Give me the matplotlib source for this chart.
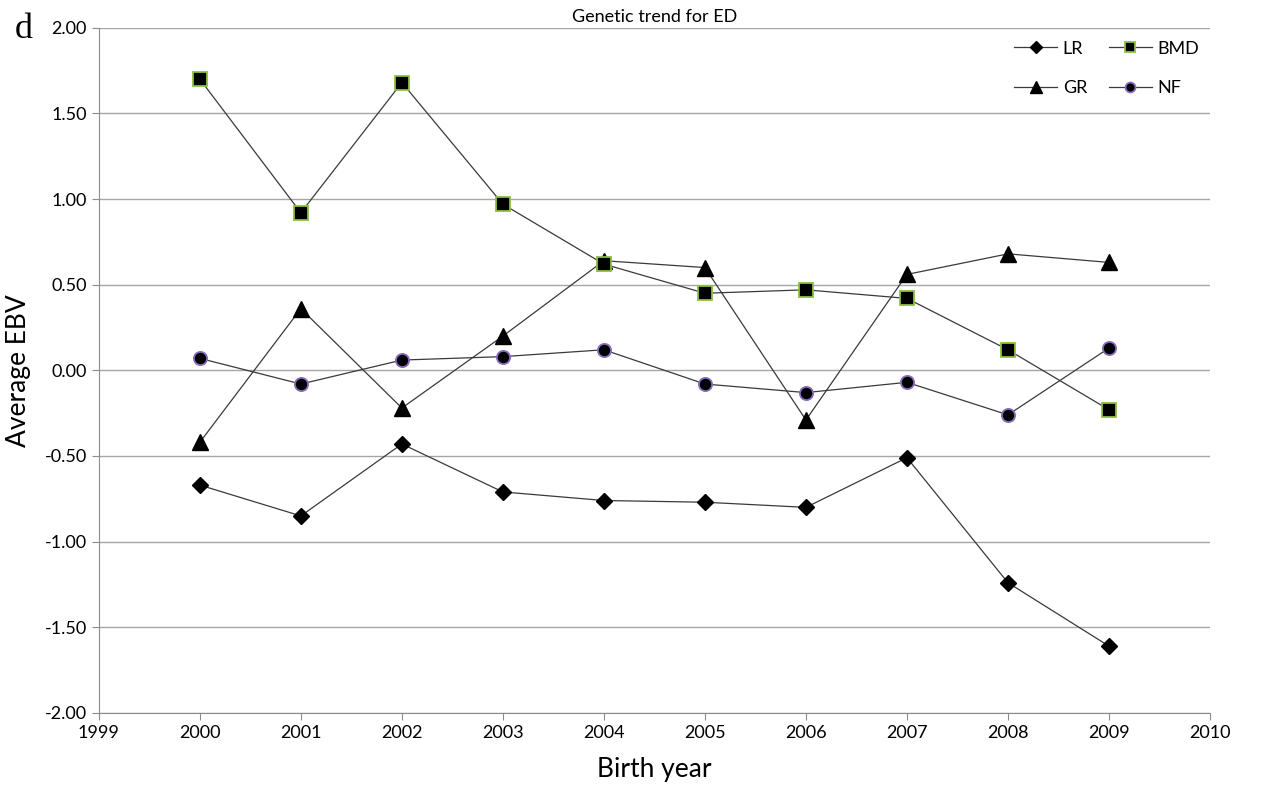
import matplotlib.pyplot as plt
import numpy as np

years = [2000, 2001, 2002, 2003, 2004, 2005, 2006, 2007, 2008, 2009]
lr = [-0.67, -0.85, -0.43, -0.71, -0.76, -0.77, -0.80, -0.51, -1.24, -1.61]
gr = [-0.42, 0.36, -0.22, 0.20, 0.64, 0.60, -0.29, 0.56, 0.68, 0.63]
bmd = [1.70, 0.92, 1.68, 0.97, 0.62, 0.45, 0.47, 0.42, 0.12, -0.23]
nf = [0.07, -0.08, 0.06, 0.08, 0.12, -0.08, -0.13, -0.07, -0.26, 0.13]

plt.rcParams['font.family'] = ['Lato', 'DejaVu Sans']

fig = plt.figure(figsize=(12.67, 7.93), dpi=100)
ax = fig.add_axes([0.078, 0.101, 0.877, 0.864])

line_kw = dict(color='#3a3a3a', linewidth=0.9)
ax.plot(years, lr, marker='D', markersize=8.5, markerfacecolor='black',
        markeredgecolor='black', label='LR', **line_kw)
ax.plot(years, gr, marker='^', markersize=11, markerfacecolor='black',
        markeredgecolor='black', label='GR', **line_kw)
ax.plot(years, bmd, marker='s', markersize=10, markerfacecolor='black',
        markeredgecolor='#8cbf3f', markeredgewidth=1.3, label='BMD', **line_kw)
ax.plot(years, nf, marker='o', markersize=9.5, markerfacecolor='black',
        markeredgecolor='#8a6cc0', markeredgewidth=1.3, label='NF', **line_kw)

ax.set_xlim(1999, 2010)
ax.set_ylim(-2, 2)
ax.set_xticks(range(1999, 2011))
ax.set_yticks(np.arange(-2, 2.01, 0.5))
ax.set_yticklabels([f'{v:.2f}' for v in np.arange(-2, 2.01, 0.5)])
ax.yaxis.grid(True, color='#a6a6a6', linewidth=1.0)
ax.set_axisbelow(True)
for s in ['top', 'right']:
    ax.spines[s].set_visible(False)
for s in ['left', 'bottom']:
    ax.spines[s].set_color('#8c8c8c')
ax.tick_params(axis='both', colors='#8c8c8c', labelcolor='black', labelsize=13, length=5)

ax.set_xlabel('Birth year', fontsize=19, labelpad=12)
ax.set_ylabel('Average EBV', fontsize=19, labelpad=10)
ax.set_title('Genetic trend for ED', fontsize=13, pad=4, y=1.0)

fig.text(0.012, 0.952, 'd', family='Liberation Serif', fontsize=26)

ax.legend(ncol=2, loc='upper right', bbox_to_anchor=(1.005, 1.005), frameon=False,
          fontsize=13, handlelength=2.4, columnspacing=1.2, labelspacing=1.3,
          markerscale=0.75, handletextpad=0.3)

fig.savefig('out.png', dpi=100)
